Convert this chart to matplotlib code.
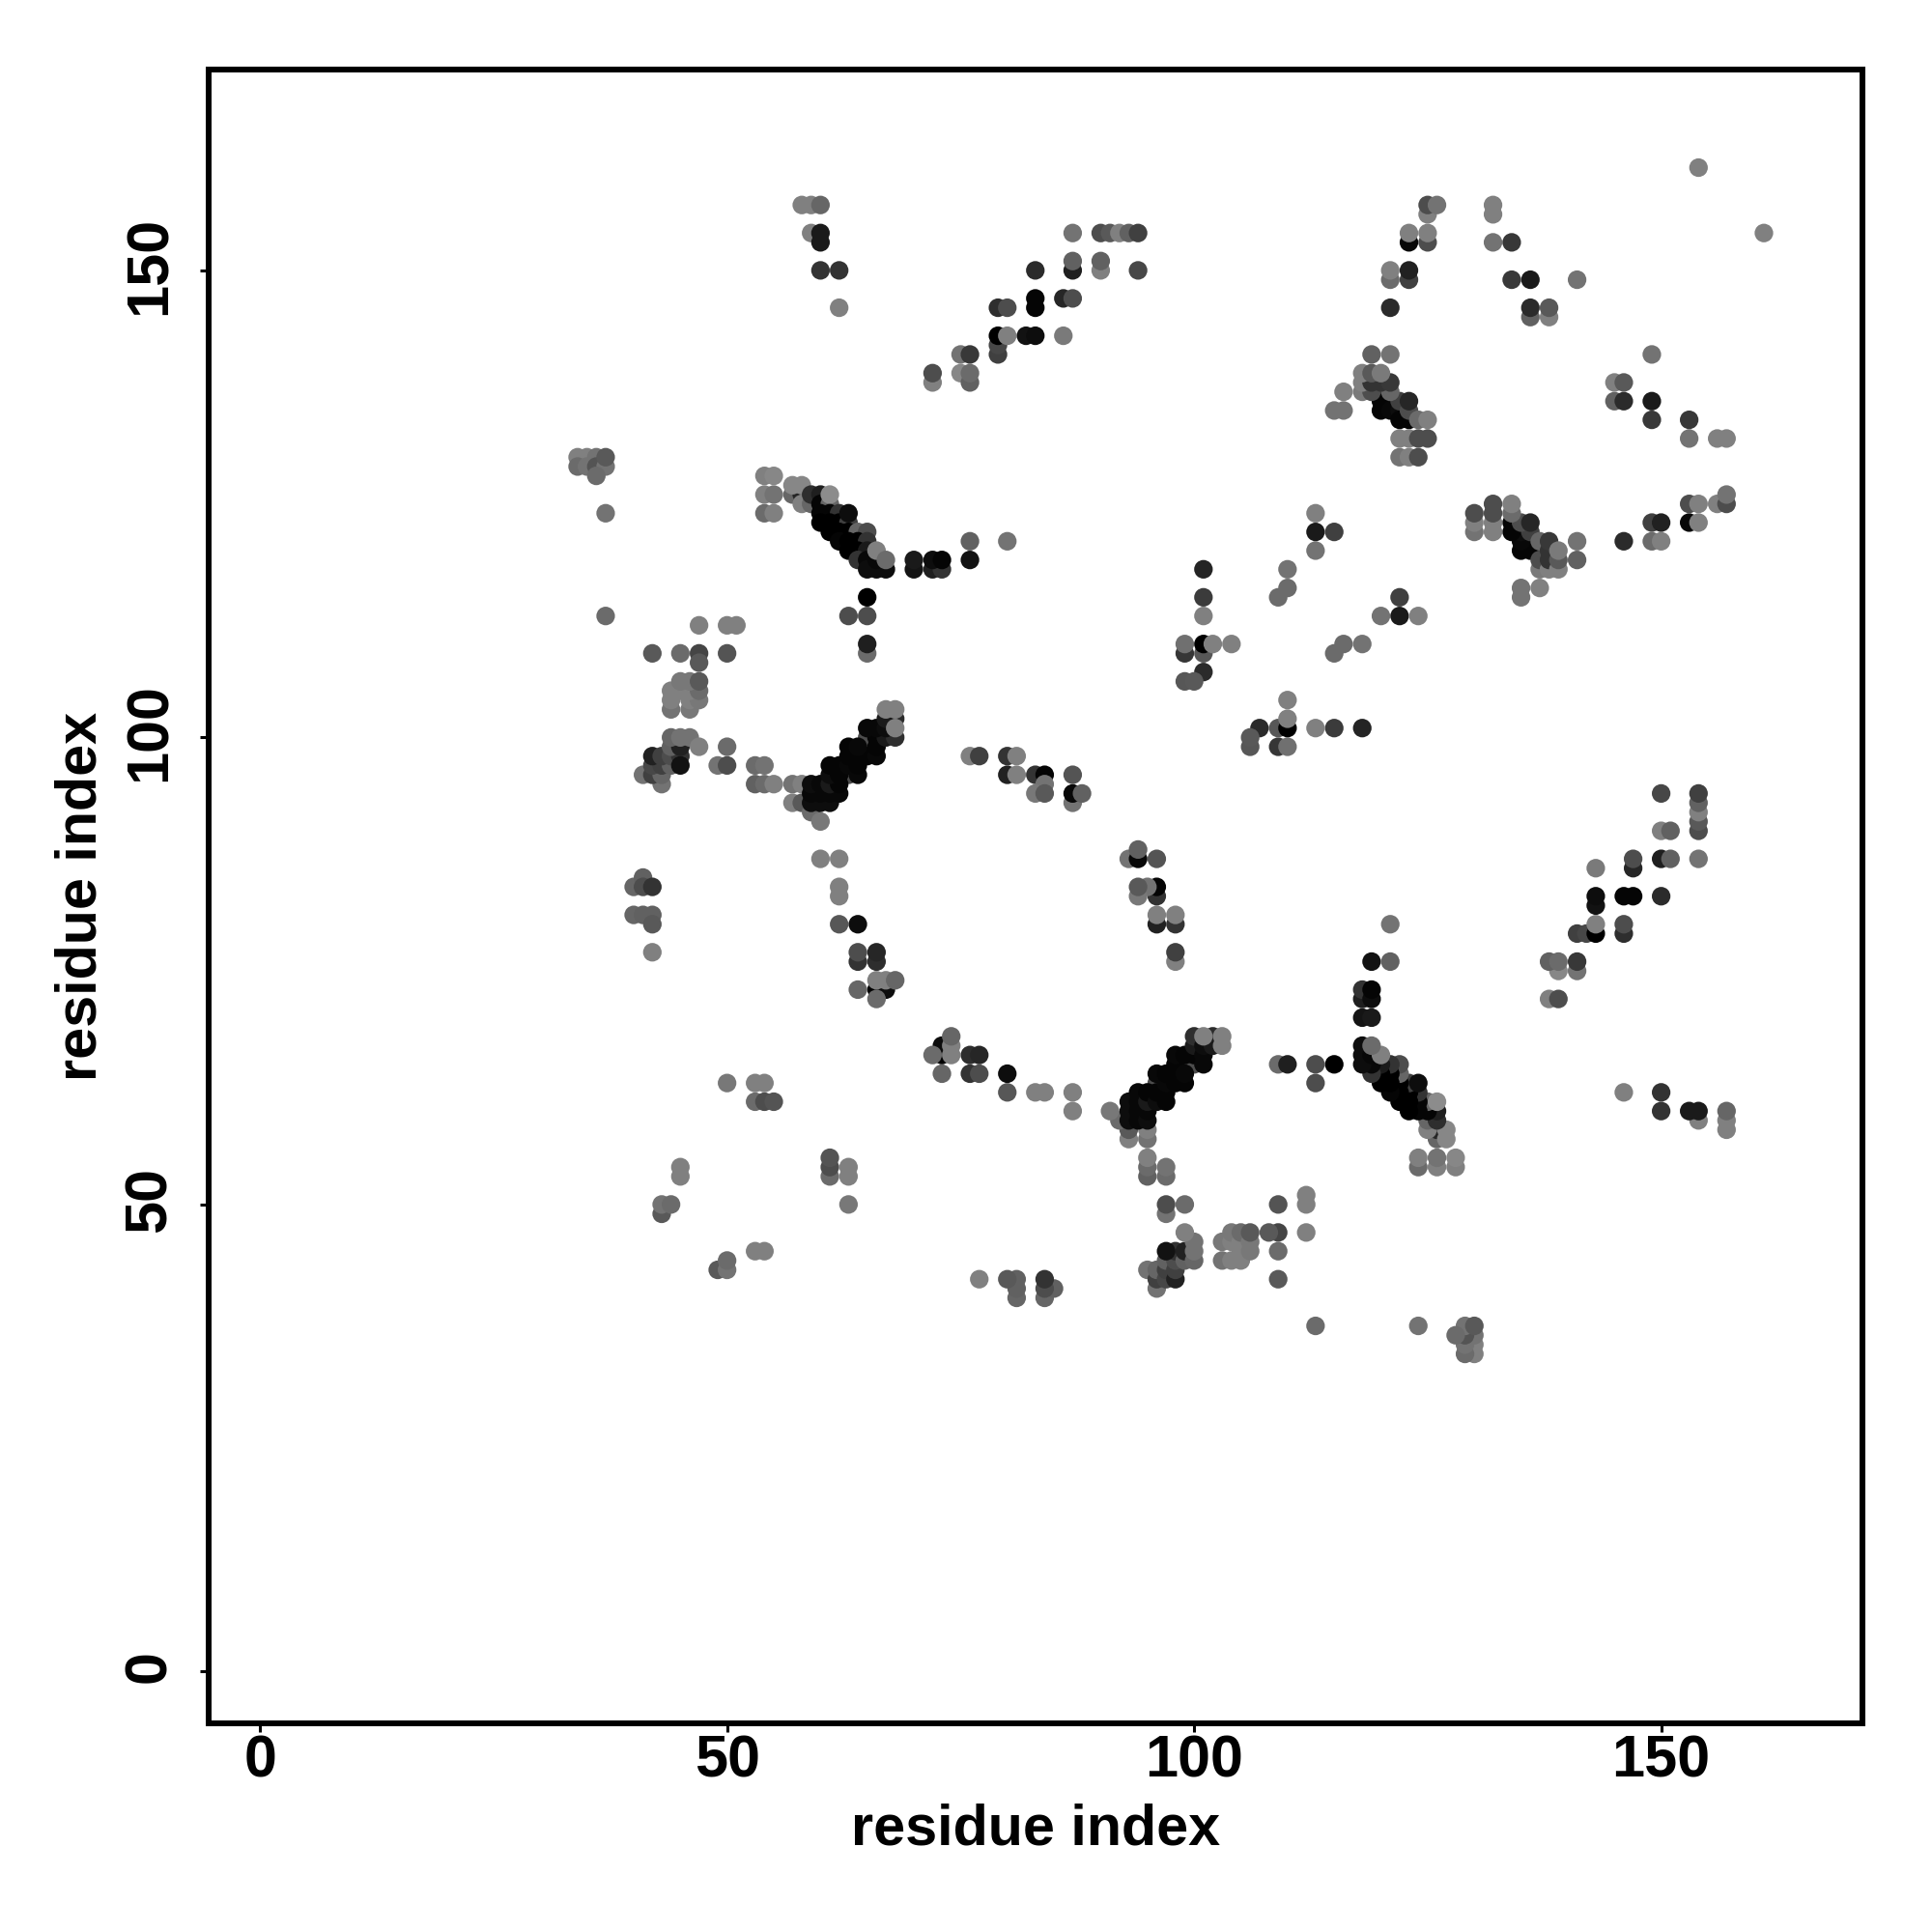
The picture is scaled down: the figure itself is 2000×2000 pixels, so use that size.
import matplotlib
matplotlib.use("Agg")
import matplotlib.pyplot as plt
from matplotlib.transforms import ScaledTranslation

# Contacts as (residue i, residue j, grey level) for i < j; the map is symmetric.
tail_34_37 = [(34,130,.5),(35,130,.5),(36,130,.45),(34,129,.42),(35,129,.45),(36,129,.33),(37,129,.45),(36,128,.42),(37,130,.35),
              (37,124,.45),(37,113,.42)]
sheet_40_47 = [(42,109,.35),(45,109,.42),(47,109,.27),(50,109,.33),(47,108,.35),(47,112,.5),(50,112,.5),(51,112,.5),
               (44,103,.45),(46,103,.47),(44,104,.5),(46,104,.5),(47,104,.47),(44,105,.5),(45,105,.5),(46,105,.5),(47,105,.42),
               (45,106,.47),(46,106,.47),(47,106,.35)]
patch_41_50 = [(41,96,.45),(43,95,.45),(42,96,.25),(43,96,.4),(42,97,.28),(43,97,.25),(44,97,.38),(42,98,.13),(43,98,.25),(44,98,.3),
               (45,98,.2),(45,97,.07),(44,99,.38),(45,99,.13),(44,100,.4),(45,100,.45),(46,100,.45),(47,99,.5),(50,99,.42),
               (49,97,.45),(50,97,.3),(53,97,.42),(54,97,.45),(53,95,.38),(54,95,.42),(55,95,.5),(57,95,.45),(58,95,.5)]
patch_40_42 = [(40,81,.4),(41,81,.38),(42,81,.38),(42,80,.35),(42,77,.5),(40,84,.4),(41,85,.38),(41,84,.3),(42,84,.2)]
patch_43_55 = [(45,54,.5),(45,53,.5),(43,49,.35),(43,50,.45),(44,50,.42),(50,63,.47),(53,63,.5),(54,63,.5),(53,61,.42),(54,61,.3),(55,61,.33)]
patch_54_62 = [(54,124,.42),(55,124,.5),(54,126,.5),(55,126,.45),(54,128,.5),(55,128,.53),
               (59,154,.5),(60,154,.1),(60,153,.1),(58,157,.5),(59,157,.5),(60,157,.4),(60,150,.2),(62,150,.2),(62,146,.5)]
strand_72_94 = [(72,138,.5),(72,139,.3),(75,139,.53),(76,138,.38),(76,139,.42),(75,141,.45),(76,141,.22),
                (79,141,.25),(79,142,.28),(79,143,0),(80,143,.5),(82,143,.07),(83,143,.05),(86,143,.48),(79,146,.18),(80,146,.3),
                (83,146,.02),(83,147,.02),(86,147,.15),(87,147,.3),(83,150,.17),(87,150,.12),(87,151,.38),(90,150,.5),(90,151,.38),
                (94,150,.28),(87,154,.45),(90,154,.3),(91,154,.35),(92,154,.5),(93,154,.38),(94,154,.25)]
anti_57_67 = [(57,126,.4),(58,126,.15),(58,125,.5),(59,125,.4),(57,127,.53),(58,127,.53),(59,126,.18),(60,126,.12),
              (60,125,.02),(61,125,.4),(61,126,.55),(60,124,.02),(61,124,.02),(62,124,.2),(60,123,0),(61,123,0),(62,123,0),
              (63,123,.25),(63,124,.05),(61,122,0),(62,122,0),(63,122,0),(64,122,.4),(65,122,.3),(62,121,.02),(63,121,0),(64,121,0),
              (65,121,.2),(63,120,0),(64,120,0),(65,120,.1),(64,119,.2),(65,119,.03),(65,118,.05),(66,118,.05),(67,118,.05),(66,119,.03),
              (66,120,.5),(67,119,.42)]
bridge_65_80 = [(70,118,.08),(70,119,.1),(72,118,.12),(73,118,.2),(72,119,.05),(73,119,.02),(76,119,.07),(76,121,.38),(80,121,.45),
                (65,115,0),(63,113,.3),(65,113,.3),(65,109,.42),(65,110,.12)]
parallel_57_68 = [(63,96,.3),(65,99,.4),(65,100,.3),(57,93,.5),(58,93,.35),(59,92,.42),(60,91,.47),(59,93,.05),(60,93,.05),(61,93,.05),
                  (59,94,.03),(60,94,.03),(61,94,.03),(62,94,.03),(59,95,.05),(60,95,.03),(61,95,.1),(62,95,.02),(61,96,.05),(62,96,.02),
                  (64,96,.03),(61,97,.02),(62,97,.02),(63,97,.03),(64,97,.02),(63,98,.02),(64,98,.02),(65,98,.02),(66,98,.03),
                  (63,99,.02),(64,99,.03),(66,99,.02),(66,100,.02),(67,100,.1),(68,100,.18),(65,101,.03),(66,101,.03),(67,101,.05),
                  (68,102,.17),(67,102,.1),(68,101,.5),(67,103,.5),(68,103,.5)]
patch_60_68 = [(60,87,.5),(62,87,.5),(62,84,.5),(62,83,.5),(62,80,.34),(64,80,.05),(64,76,.2),(64,77,.3),(66,76,.18),(66,77,.15),
               (64,73,.4),(66,73,0),(67,73,.05),(66,72,.42),(66,74,.5),(67,74,.5),(68,74,.4)]
patch_76_88 = [(76,98,.5),(77,98,.25),(80,98,.2),(81,98,.5),(80,96,.13),(81,96,.5),(83,96,.2),(84,96,.02),(87,96,.33),(84,95,.45),
               (83,94,.47),(84,94,.35),(87,93,.45),(87,94,.03),(88,94,.38)]
patch_99_104 = [(101,115,.23),(101,113,.5),(101,118,.14),(99,109,.21),(101,109,.34),(99,110,.44),(101,110,0),(102,110,.5),(104,110,.5),
                (101,107,.17),(99,106,.34),(100,106,.35)]
patch_109_115 = [(109,115,.42),(110,116,.42),(110,118,.45),(113,120,.45),(113,122,.1),(115,122,.25),(113,124,.5)]
anti_115_125 = [(120,137,.05),(120,136,.02),(121,136,.02),(120,135,.02),(121,135,.03),(122,135,.05),(122,134,.02),(123,134,.02),
                (122,136,.25),(123,135,.3),(123,136,.15),(116,137,.5),(118,137,.48),(119,137,.3),(121,137,.4),
                (118,138,.5),(119,138,.2),(120,138,.2),(118,139,.5),(119,139,.35),(121,138,.22),(120,139,.48),
                (115,135,.45),(116,135,.45),(124,134,.42),(125,134,.5),(119,141,.38),(121,141,.45),
                (122,132,.5),(123,132,.5),(124,132,.3),(125,132,.3),(122,130,.45),(123,130,.5),(124,130,.3)]
patch_121_126 = [(121,149,.42),(121,150,.5),(123,149,.25),(123,150,.13),(121,146,.17),(123,153,.03),(125,153,.3),(123,154,.5),(125,154,.5),
                 (125,156,.5),(125,157,.3),(126,157,.45)]
patch_132_154 = [(132,156,.5),(132,157,.5),(132,153,.45),(134,153,.22),(134,149,.22),(136,149,.1),(141,149,.45),(136,145,.38),(138,145,.5),
                 (136,146,.17),(138,146,.35),(154,161,.5)]

blocks = [tail_34_37, sheet_40_47, patch_41_50, patch_40_42, patch_43_55, patch_54_62, strand_72_94, anti_57_67,
          bridge_65_80, parallel_57_68, patch_60_68, patch_76_88, patch_99_104, patch_109_115, anti_115_125,
          patch_121_126, patch_132_154]

tick_values = [0, 50, 100, 150]
axis_label = "residue index"

plt.rcParams["font.family"] = ["Liberation Sans", "DejaVu Sans"]
plt.rcParams["font.weight"] = "bold"

fig = plt.figure(figsize=(10, 10), dpi=200, facecolor="white")
ax = fig.add_axes([216/2000, (2000-1784)/2000, 1712/2000, 1712/2000])

for block in blocks:
    xs = [p[0] for p in block]
    ys = [p[1] for p in block]
    cs = [str(p[2]) for p in block]
    ax.scatter(xs + ys, ys + xs, c=cs + cs, s=48, linewidths=0, zorder=2)

ax.set_xlim(-5.5, 171.55)
ax.set_ylim(-5.55, 171.5)
ax.set_xticks(tick_values)
ax.set_yticks(tick_values)
ax.tick_params(axis="both", length=3.2, width=1.1, labelsize=22, color="black")
ax.tick_params(axis="x", pad=0.8)
ax.tick_params(axis="y", pad=8.2)
shift_up = ScaledTranslation(0, 5/200, fig.dpi_scale_trans)
for lab in ax.get_yticklabels():
    lab.set_rotation(90)
    lab.set_va("center")
    lab.set_transform(lab.get_transform() + shift_up)
for s in ax.spines.values():
    s.set_linewidth(2.16)
ax.set_xlabel(axis_label, fontsize=21.4, fontweight="bold")
ax.set_ylabel(axis_label, fontsize=21.4, fontweight="bold")
ax.xaxis.set_label_coords(0.5, -0.048)
ax.yaxis.set_label_coords(-0.0613, 0.5)

fig.savefig("out.png", dpi=200, facecolor="white")
